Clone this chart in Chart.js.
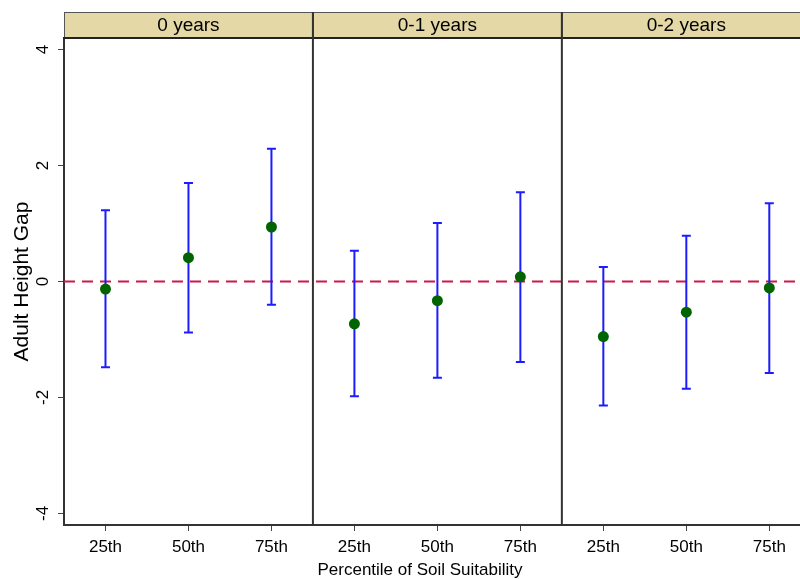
<!DOCTYPE html>
<html>
<head>
<meta charset="utf-8">
<script src="https://cdn.jsdelivr.net/npm/chart.js@4.4.1/dist/chart.umd.min.js"></script>
<style>
body { margin: 0; background: #fff; }
#wrap { width: 800px; height: 579px; }
</style>
</head>
<body>
<div id="wrap"><canvas id="chart" width="800" height="579"></canvas></div>
<script>
var panel_names = ['0 years', '0-1 years', '0-2 years'];
var categories = ['25th', '50th', '75th'];
var estimates = [-0.13, 0.41, 0.94, -0.73, -0.33, 0.08, -0.95, -0.53, -0.11];
var lower_ci = [-1.48, -0.88, -0.40, -1.98, -1.66, -1.39, -2.14, -1.85, -1.58];
var upper_ci = [1.23, 1.70, 2.29, 0.53, 1.01, 1.54, 0.25, 0.79, 1.35];
var y_ticks = [-4, -2, 0, 2, 4];
var ref_value = 0;
var y_title = 'Adult Height Gap';
var x_title = 'Percentile of Soil Suitability';

Chart.defaults.font.family = '"Liberation Sans", Arial, sans-serif';
Chart.defaults.color = '#000';

// one x slot per category, panels laid side by side
var points = [];
var x_ticks = [];
for (idx = 0; idx < estimates.length; idx++) {
    var panel = Math.floor(idx / categories.length);
    var xv = panel * categories.length + (idx % categories.length) + 1;
    points.push({x: xv, y: estimates[idx]});
    x_ticks.push(xv);
}

var facetPlugin = {
    id: 'facets',
    beforeDatasetsDraw: function(chart) {
        var ctx = chart.ctx, area = chart.chartArea;
        var xs = chart.scales.x, ys = chart.scales.y;
        ctx.save();
        // reference line
        var y0 = ys.getPixelForValue(ref_value);
        ctx.strokeStyle = '#c81a4b';
        ctx.lineWidth = 2;
        ctx.setLineDash([11, 7]);
        ctx.beginPath();
        ctx.moveTo(area.left, y0);
        ctx.lineTo(area.right, y0);
        ctx.stroke();
        ctx.setLineDash([]);
        // confidence intervals
        ctx.strokeStyle = '#1c1cff';
        ctx.lineWidth = 2;
        for (idx = 0; idx < points.length; idx++) {
            var px = xs.getPixelForValue(points[idx].x);
            var lo = ys.getPixelForValue(lower_ci[idx]);
            var hi = ys.getPixelForValue(upper_ci[idx]);
            ctx.beginPath();
            ctx.moveTo(px, lo); ctx.lineTo(px, hi);
            ctx.moveTo(px - 4.5, lo); ctx.lineTo(px + 4.5, lo);
            ctx.moveTo(px - 4.5, hi); ctx.lineTo(px + 4.5, hi);
            ctx.stroke();
        }
        ctx.restore();
    },
    afterDraw: function(chart) {
        var ctx = chart.ctx, area = chart.chartArea;
        var xs = chart.scales.x, ys = chart.scales.y;
        var n = categories.length;
        var stripTop = 12;
        ctx.save();
        // strip headers
        for (p = 0; p < panel_names.length; p++) {
            var l = xs.getPixelForValue(p * n + 0.5);
            var r = xs.getPixelForValue((p + 1) * n + 0.5);
            ctx.fillStyle = '#e3d8a6';
            ctx.fillRect(l, stripTop, r - l, area.top - stripTop);
            ctx.strokeStyle = '#555';
            ctx.lineWidth = 1;
            ctx.strokeRect(l + 0.5, stripTop + 0.5, r - l, area.top - stripTop);
            ctx.fillStyle = '#000';
            ctx.font = '19px "Liberation Sans", Arial, sans-serif';
            ctx.textAlign = 'center';
            ctx.textBaseline = 'middle';
            ctx.fillText(panel_names[p], (l + r) / 2, (stripTop + area.top) / 2 + 1);
        }
        // thick line under strips
        ctx.strokeStyle = '#222';
        ctx.lineWidth = 2;
        ctx.beginPath();
        ctx.moveTo(area.left - 1, area.top);
        ctx.lineTo(area.right, area.top);
        ctx.stroke();
        // panel separators
        ctx.strokeStyle = '#333';
        for (p = 1; p < panel_names.length; p++) {
            var sx = xs.getPixelForValue(p * n + 0.5);
            ctx.beginPath();
            ctx.moveTo(sx, stripTop);
            ctx.lineTo(sx, area.bottom);
            ctx.stroke();
        }
        // rotated y tick labels
        ctx.fillStyle = '#000';
        ctx.font = '17px "Liberation Sans", Arial, sans-serif';
        ctx.textAlign = 'center';
        ctx.textBaseline = 'middle';
        for (t = 0; t < y_ticks.length; t++) {
            var ty = ys.getPixelForValue(y_ticks[t]);
            ctx.save();
            ctx.translate(43, ty);
            ctx.rotate(-Math.PI / 2);
            ctx.fillText(String(y_ticks[t]), 0, 0);
            ctx.restore();
        }
        // x axis title
        ctx.font = '17px "Liberation Sans", Arial, sans-serif';
        ctx.fillText(x_title, 420, 570);
        ctx.restore();
    }
};

var ctx = document.getElementById('chart');
var myChart = new Chart(ctx, {
    type: 'scatter',
    data: {
        datasets: [{
            data: points,
            backgroundColor: '#006400',
            borderWidth: 0,
            pointRadius: 5.5,
            pointHoverRadius: 5.5
        }]
    },
    options: {
        responsive: false,
        animation: false,
        layout: {autoPadding: false, padding: {top: 38, right: 0, left: 0, bottom: 0}},
        plugins: {
            legend: {display: false},
            tooltip: {enabled: false}
        },
        scales: {
            x: {
                type: 'linear',
                min: 0.5,
                max: 9.37,
                afterBuildTicks: function(scale) {
                    scale.ticks = x_ticks.map(function(v) { return {value: v}; });
                },
                afterFit: function(scale) {
                    scale.height = 54;
                    scale.paddingLeft = 0;
                    scale.paddingRight = 0;
                },
                ticks: {
                    font: {size: 17},
                    color: '#000',
                    padding: 6,
                    maxRotation: 0,
                    callback: function(value) {
                        return categories[(value - 1) % categories.length];
                    }
                },
                grid: {drawOnChartArea: false, drawTicks: true, tickLength: 6, color: '#444', lineWidth: 1},
                border: {display: true, color: '#333', width: 2}
            },
            y: {
                min: -4.2,
                max: 4.2,
                afterBuildTicks: function(scale) {
                    scale.ticks = y_ticks.map(function(v) { return {value: v}; });
                },
                afterFit: function(scale) {
                    scale.width = 64;
                    scale.paddingTop = 0;
                    scale.paddingBottom = 0;
                },
                ticks: {display: false},
                title: {
                    display: true,
                    text: y_title,
                    font: {size: 21},
                    color: '#000',
                    padding: {top: 10, bottom: 0}
                },
                grid: {drawOnChartArea: false, drawTicks: true, tickLength: 6, color: '#444', lineWidth: 1},
                border: {display: true, color: '#333', width: 2}
            }
        }
    },
    plugins: [facetPlugin]
});
</script>
</body>
</html>
